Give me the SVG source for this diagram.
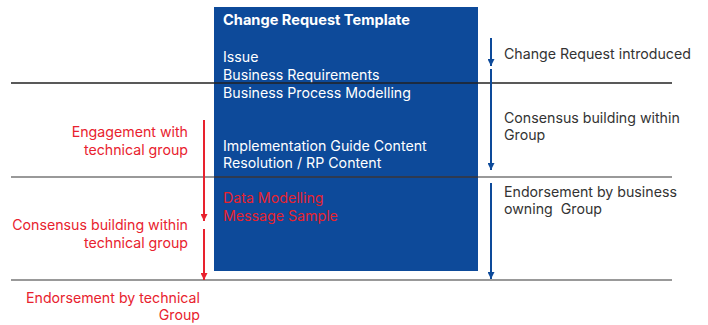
<svg xmlns="http://www.w3.org/2000/svg" width="708" height="325" viewBox="0 0 708 325">
<defs>
<style>
text{font-family:Inter,"Liberation Sans",Arial,sans-serif;font-size:14.2px}
.w{fill:#ffffff}
.r{fill:#e8222e}
.g{fill:#333333}
.b{stroke:#0d4a9a;stroke-width:2;fill:none}
.rl{stroke:#e8222e;stroke-width:2;fill:none}
</style>
<marker id="ab" viewBox="0 0 8 8" refX="8" refY="4" markerWidth="7" markerHeight="7" markerUnits="userSpaceOnUse" orient="auto"><path d="M0,0 L8,4 L0,8 Z" fill="#0d4a9a"/></marker>
<marker id="ar" viewBox="0 0 8 8" refX="8" refY="4" markerWidth="7" markerHeight="7" markerUnits="userSpaceOnUse" orient="auto"><path d="M0,0 L8,4 L0,8 Z" fill="#e8222e"/></marker>
</defs>
<rect width="708" height="325" fill="#ffffff"/>
<g id="template">
<rect x="214" y="7" width="264" height="264" fill="#0d4a9a"/>
<text x="223" y="25" class="w" font-weight="bold" style="font-size:14.6px">Change Request Template</text>
<text x="223" y="61.5" class="w">Issue</text>
<text x="223" y="79.5" class="w">Business Requirements</text>
<text x="223" y="97.5" class="w">Business Process Modelling</text>
<text x="223" y="150.5" class="w">Implementation Guide Content</text>
<text x="223" y="168" class="w">Resolution / RP Content</text>
<text x="223" y="203" class="r">Data Modelling</text>
<text x="223" y="220.5" class="r">Message Sample</text>
</g>
<g id="dividers">
<line x1="11" y1="83" x2="672" y2="83" stroke="#222222" stroke-width="1.3"/>
<line x1="11" y1="177" x2="672" y2="177" stroke="#777777" stroke-width="1.3"/>
<line x1="214" y1="177" x2="478" y2="177" stroke="#1f2a40" stroke-width="1.3"/>
<line x1="11" y1="280" x2="672" y2="280" stroke="#777777" stroke-width="1.3"/>
</g>
<g id="connectors">
<line x1="491" y1="38" x2="491" y2="66" class="b" marker-end="url(#ab)"/>
<line x1="491" y1="69" x2="491" y2="170" class="b" marker-end="url(#ab)"/>
<line x1="491" y1="183" x2="491" y2="279" class="b" marker-end="url(#ab)"/>
<line x1="204" y1="120" x2="204" y2="221" class="rl" marker-end="url(#ar)"/>
<line x1="204" y1="229" x2="204" y2="280" class="rl" marker-end="url(#ar)"/>
</g>
<g id="business-labels">
<text x="504" y="58.5" class="g">Change Request introduced</text>
<text x="504" y="122.5" class="g">Consensus building within</text>
<text x="504" y="139.5" class="g">Group</text>
<text x="504" y="196.5" class="g">Endorsement by business</text>
<text x="504" y="214" class="g" xml:space="preserve">owning  Group</text>
</g>
<g id="technical-labels">
<text x="188" y="137" class="r" text-anchor="end">Engagement with</text>
<text x="188" y="154.5" class="r" text-anchor="end">technical group</text>
<text x="188" y="230" class="r" text-anchor="end">Consensus building within</text>
<text x="188" y="247.5" class="r" text-anchor="end">technical group</text>
<text x="200" y="302.5" class="r" text-anchor="end">Endorsement by technical</text>
<text x="200" y="320" class="r" text-anchor="end">Group</text>
</g>
</svg>
